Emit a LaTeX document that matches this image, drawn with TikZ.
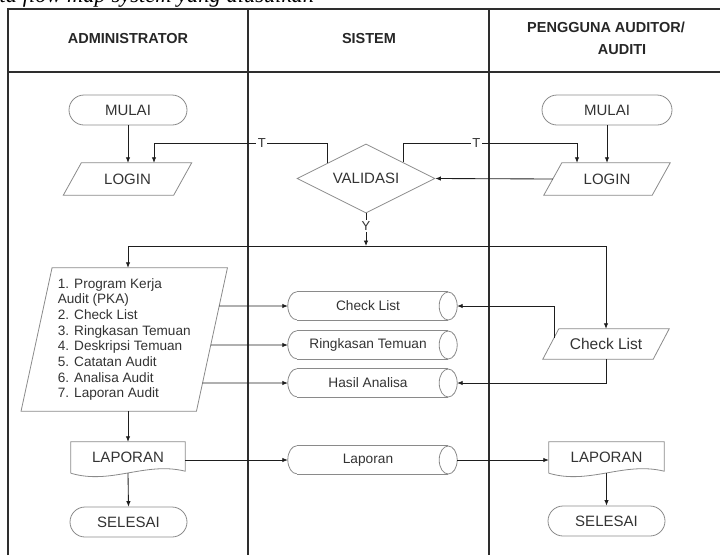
\documentclass[tikz,border=0pt]{standalone}
\usepackage{fontspec}
\setmainfont{Liberation Sans}
\newfontfamily\capfont{Liberation Serif}
\usetikzlibrary{arrows.meta,shapes.geometric,calc}

\definecolor{lanecol}{HTML}{2E2E2E}
\definecolor{linecol}{HTML}{1E1E1E}
\definecolor{shapecol}{HTML}{8A8A8A}
\definecolor{txtcol}{HTML}{333333}

\tikzset{
  lanestroke/.style={draw=lanecol, line width=1.1pt},
  shapeedge/.style={draw=shapecol, line width=0.8pt},
  flowarrow/.style={draw=linecol, line width=0.85pt, -{Latex[length=5.5pt,width=4.5pt]}},
  plainbox/.style={inner sep=0pt, text=txtcol, font=\fontsize{15}{18}\selectfont},
  termbox/.style={plainbox, shapeedge, rounded corners=15pt, minimum height=30pt},
  cylbox/.style={plainbox, minimum width=160pt, minimum height=28pt, font=\fontsize{13.7}{16}\selectfont},
  headtext/.style={inner sep=0pt, text=black!85, font=\bfseries\fontsize{14.5}{17}\selectfont},
  edgelabel/.style={fill=white, inner sep=1.5pt, text=txtcol, font=\fontsize{13}{15}\selectfont}
}

% parallelogram outline around a rectangular node (#2 = half of the slant)
\newcommand\paraout[2]{%
  \coordinate (#1-tl) at ([xshift=#2]#1.north west);
  \coordinate (#1-tr) at ([xshift=#2]#1.north east);
  \coordinate (#1-br) at ([xshift=-#2]#1.south east);
  \coordinate (#1-bl) at ([xshift=-#2]#1.south west);
  \draw[shapeedge] (#1-tl) -- (#1-tr) -- (#1-br) -- (#1-bl) -- cycle;}

% horizontal storage cylinder: half ellipse on the left, full ellipse on the right
\newcommand\cylout[1]{%
  \draw[shapeedge] ([xshift=9pt]#1.north west) -- (#1.north east);
  \draw[shapeedge] ([xshift=9pt]#1.south west) -- (#1.south east);
  \draw[shapeedge] ([xshift=9pt]#1.north west) arc[start angle=90,end angle=270,x radius=9pt,y radius=14pt];
  \draw[shapeedge] (#1.east) ellipse[x radius=9pt,y radius=14pt];}

% document symbol with a wavy lower edge
\newcommand\docout[1]{%
  \draw[shapeedge] (#1.south west) -- (#1.north west) -- (#1.north east) -- ([yshift=2pt]#1.south east)
    .. controls ($(#1.south west)!0.65!(#1.south east)+(0,12pt)$) and ($(#1.south west)!0.35!(#1.south east)+(0,-12pt)$) .. (#1.south west);}

\begin{document}
\begin{tikzpicture}[x=1pt, y=-1pt]
\useasboundingbox (0,0) rectangle (720,555);

% caption line, cut by the upper edge
\begin{scope}
  \clip (0,0) rectangle (720,555);
  \node[anchor=base west, inner sep=0pt, text=black, font=\capfont\itshape\fontsize{22.5}{26}\selectfont] (cap) at (-28,2) {Data flow map system yang diusulkan};
\end{scope}

% swimlanes
\draw[lanestroke] (8,555) -- (8,9) -- (720,9);
\draw[lanestroke] (8,72) -- (720,72);
\draw[lanestroke] (248,9) -- (248,555);
\draw[lanestroke] (489,9) -- (489,555);

\node[headtext] (hA) at (128,39) {ADMINISTRATOR};
\node[headtext] (hS) at (369,39) {SISTEM};
\node[headtext] (hP1) at (606,27) {PENGGUNA AUDITOR/};
\node[headtext] (hP2) at (622,50) {AUDITI};

% start terminals
\node[termbox, minimum width=118pt] (m1) at (128,110) {MULAI};
\node[termbox, minimum width=130pt] (m2) at (607,110) {MULAI};

% login inputs
\node[plainbox, minimum width=110pt, minimum height=32pt] (l1) at (127.5,179) {LOGIN};
\paraout{l1}{9pt}
\node[plainbox, minimum width=108pt, minimum height=32pt] (l2) at (607,179) {LOGIN};
\paraout{l2}{9pt}

% validation decision
\node[diamond, shapeedge, aspect=2, minimum width=138pt, minimum height=69pt, inner sep=0pt,
      text=txtcol, font=\fontsize{15}{18}\selectfont] (val) at (366,178.5) {VALIDASI};

% administrator document list
\node[plainbox, minimum width=175pt, minimum height=143pt, align=left,
      font=\fontsize{13.6}{15.7}\selectfont] (list) at (124.25,339.5)
  {1. Program Kerja\\Audit (PKA)\\2. Check List\\3. Ringkasan Temuan\\4. Deskripsi Temuan\\5. Catatan Audit\\6. Analisa Audit\\7. Laporan Audit};
\paraout{list}{15.5pt}

% auditor check list input
\node[plainbox, minimum width=110pt, minimum height=30pt, font=\fontsize{15.5}{18}\selectfont] (clp) at (606,344) {Check List};
\paraout{clp}{8pt}

% stored data
\node[cylbox] (c1) at (368,306) {Check List};
\cylout{c1}
\node[cylbox] (c2) at (368,345) {Ringkasan Temuan};
\cylout{c2}
\node[cylbox] (c3) at (368,383) {Hasil Analisa};
\cylout{c3}
\node[cylbox] (c4) at (368,460) {Laporan};
\cylout{c4}

% reports
\node[plainbox, minimum width=114pt, minimum height=31pt] (d1) at (128,457.5) {LAPORAN};
\docout{d1}
\node[plainbox, minimum width=115pt, minimum height=31pt] (d2) at (606.5,457.5) {LAPORAN};
\docout{d2}

% end terminals
\node[termbox, minimum width=117pt] (s1) at (128.5,522) {SELESAI};
\node[termbox, minimum width=117pt] (s2) at (606.5,521) {SELESAI};

% connectors
\draw[flowarrow] (m1.south) -- (m1.south |- l1.north);
\draw[flowarrow] (m2.south) -- (m2.south |- l2.north);

\coordinate (tl) at ($(val.west)!0.45!(val.north)$);
\coordinate (tr) at ($(val.east)!0.46!(val.north)$);
\coordinate (tlev) at (0,143.3);
\draw[flowarrow] (tl) -- (tl |- tlev) -| node[pos=0.19, edgelabel] {T} ([xshift=26.5pt]l1.north);
\draw[flowarrow] (tr) -- (tr |- tlev) -| node[pos=0.21, edgelabel] {T} ([xshift=-30pt]l2.north);
\draw[flowarrow] (l2.west) -- (val.east);

\coordinate (ylev) at (0,246);
\coordinate (ysplit) at (val.south |- ylev);
\draw[flowarrow] (val.south) -- node[pos=0.4, edgelabel] {Y} (ysplit);
\draw[flowarrow] (ysplit) -| ([xshift=3.75pt]list.north);
\draw[flowarrow] (ysplit) -| (clp.north);

\draw[flowarrow] (intersection of list-tr--list-br and c1.west--c1.east) -- (c1.west);
\draw[flowarrow] (intersection of list-tr--list-br and c2.west--c2.east) -- (c2.west);
\draw[flowarrow] (intersection of list-tr--list-br and c3.west--c3.east) -- (c3.west);

\draw[flowarrow] ($(clp-tl)!0.3!(clp-bl)$) |- ([xshift=9pt]c1.east);
\draw[flowarrow] (clp.south) |- ([xshift=9pt]c3.east);

\draw[flowarrow] (d1.north |- list.south) -- (d1.north);
\draw[flowarrow] (d1.east |- c4.west) -- (c4.west);
\draw[flowarrow] ([xshift=9pt]c4.east) -- (d2.west |- c4.east);
\draw[flowarrow] (d1.south) -- (s1.north);
\draw[flowarrow] (d2.south) -- (s2.north);
\end{tikzpicture}
\end{document}
